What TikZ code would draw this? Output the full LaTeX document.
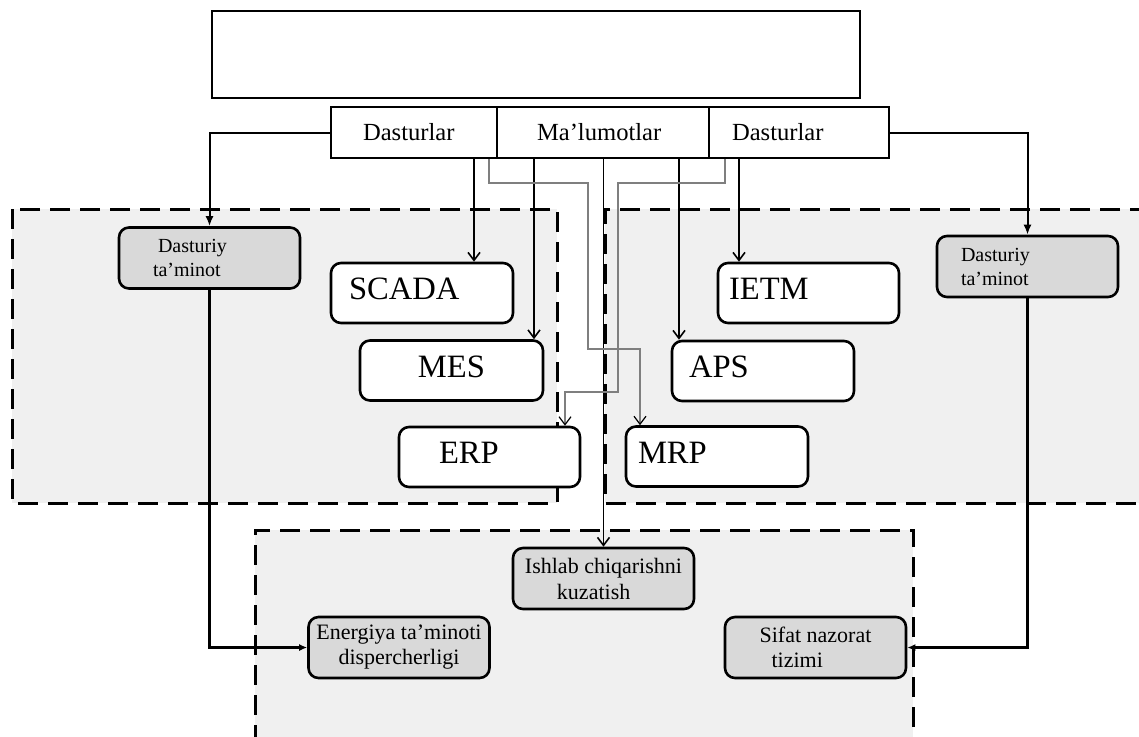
\documentclass[tikz,border=0pt]{standalone}
\usepackage{fontspec}
\setmainfont{Liberation Serif}
\usepackage{xcolor}
\usetikzlibrary{arrows.meta}

\definecolor{zonegray}{HTML}{F0F0F0}
\definecolor{boxgray}{HTML}{D9D9D9}
\definecolor{wiregray}{HTML}{7F7F7F}

\tikzset{
    zone/.style={draw=black, line width=1.5pt, dash pattern=on 10pt off 5pt},
    tab/.style={draw, line width=1pt, minimum height=25.5pt, inner ysep=0pt, align=left, font=\fontsize{12.3}{14}\selectfont},
    sys/.style={draw, fill=white, line width=1.3pt, rounded corners=5pt, minimum height=30pt, text depth=4pt, align=left, font=\fontsize{16.3}{18}\selectfont},
    soft/.style={draw, fill=boxgray, line width=1.3pt, rounded corners=5pt, minimum width=90.5pt, minimum height=30.5pt, align=left},
    feed/.style={line width=1pt, -{Latex[length=5pt,width=4pt]}},
    feedin/.style={line width=1.2pt, -{Latex[length=4pt,width=3.5pt]}},
    link/.style={line width=0.8pt, -{Straight Barb[length=4pt,width=6pt]}},
    datalink/.style={draw=wiregray, line width=0.6pt, -{Straight Barb[length=4pt,width=6pt,color=black]}}
}

\begin{document}
\begin{tikzpicture}[x=0.5pt,y=-0.5pt]
                    \useasboundingbox (0,0) rectangle (1139,736);

                    % zones
                    \fill[zonegray] (12,209) rectangle (557,503);
                    \draw[zone] (12,209) rectangle (557,503);
                    \fill[zonegray] (605,209) rectangle (1150,503);
                    \draw[zone] (1150,209) -- (605,209) -- (605,503) -- (1150,503);
                    \fill[zonegray] (255,530) rectangle (913,745);
                    \draw[zone] (255,745) -- (255,530) -- (913,530) -- (913,745);

                    % top
                    \node[draw, line width=1pt, minimum width=324pt, minimum height=43.5pt] (head) at (536,54.5) {};
                    \node[tab, inner xsep=16pt, text width=51pt] (dasl) at (414,132.5) {Dasturlar};
                    \node[tab, inner xsep=20pt, text width=66pt] (malum) at (603,132.5) {Ma’lumotlar};
                    \node[tab, inner xsep=11.5pt, text width=67pt] (dasr) at (799,132.5) {Dasturlar};

                    % systems
                    \node[sys, inner xsep=9pt, text width=73pt] (scada) at (422,293) {SCADA};
                    \node[sys, minimum width=91.5pt, align=center] (mes) at (451.5,370.5) {MES};
                    \node[sys, inner xsep=20pt, text width=50.5pt] (erp) at (489.5,457) {ERP};
                    \node[sys, inner xsep=5.5pt, text width=79.5pt] (ietm) at (808.5,293) {IETM};
                    \node[sys, inner xsep=8.5pt, text width=74pt] (aps) at (763,371) {APS};
                    \node[sys, inner xsep=6pt, text width=79pt] (mrp) at (717,456.5) {MRP};

                    \node[soft, font=\fontsize{10}{12}\selectfont, inner xsep=17pt, text width=56.5pt] (dtl) at (209.5,258) {\hspace*{2.5pt}Dasturiy\\ta’minot};
                    \node[soft, font=\fontsize{10}{12}\selectfont, inner xsep=12pt, text width=66.5pt] (dtr) at (1027.5,266.5) {Dasturiy\\ta’minot};

                    % bottom
                    \node[soft, font=\fontsize{11}{13}\selectfont] (ishlab) at (603.5,578.5) {Ishlab chiqarishni\\\hspace*{16pt}kuzatish};
                    \node[soft, font=\fontsize{11}{12.5}\selectfont, align=center] (energ) at (399,647.5) {Energiya ta’minoti\\dispercherligi};
                    \node[soft, font=\fontsize{11}{12.5}\selectfont] (sifat) at (815.5,647.5) {Sifat nazorat\\\hspace*{6pt}tizimi};

                    % connectors
                    \draw[feed] (dasl.west) -| (dtl.north);
                    \draw[feed] (dasr.east) -| (dtr.north);
                    \draw[feedin] (dtl.south) |- (energ.west);
                    \draw[feedin] (dtr.south) |- (sifat.east);

                    \draw[link] (474,0 |- dasl.south) -- (474,0 |- scada.north);
                    \draw[link] (534,0 |- malum.south) -- (534,0 |- mes.north);
                    \draw[link] (malum.south -| ishlab.north) -- (ishlab.north);
                    \draw[link] (679,0 |- malum.south) -- (679,0 |- aps.north);
                    \draw[link] (739,0 |- dasr.south) -- (739,0 |- ietm.north);

                    \draw[datalink] (489,0 |- dasl.south) |- (588,183) |- (640,349) -- (640,0 |- mrp.north);
                    \draw[datalink] (725,0 |- dasr.south) |- (618,183) |- (565,392) -- (565,0 |- erp.north);
\end{tikzpicture}
\end{document}
